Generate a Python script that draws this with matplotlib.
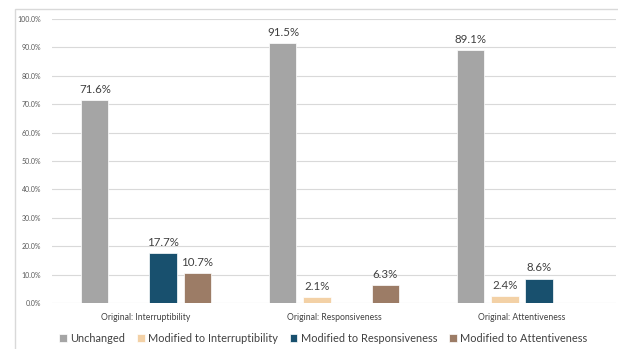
import numpy as np
import matplotlib.pyplot as plt
from matplotlib.patches import Rectangle

plt.rcParams['font.family'] = ['Lato', 'DejaVu Sans']

groups = ['Original: Interruptibility', 'Original: Responsiveness', 'Original: Attentiveness']
series = ['Unchanged', 'Modified to Interruptibility', 'Modified to Responsiveness', 'Modified to Attentiveness']
unchanged = [71.6, 91.5, 89.1]
to_interrupt = [0.0, 2.1, 2.4]
to_respons = [17.7, 0.0, 8.6]
to_attent = [10.7, 6.3, 0.0]
colors = ['#A5A5A5', '#F3D1A6', '#18506E', '#9C7C66']

values = [unchanged, to_interrupt, to_respons, to_attent]

fig = plt.figure(figsize=(6.18, 3.49), dpi=100)
# light frame around the whole chart
fig.patches.append(Rectangle((15 / 618, -0.01), 1.0, 1 - 9 / 349 + 0.01,
                             transform=fig.transFigure, fill=False,
                             edgecolor='#D9D9D9', linewidth=1.0))

ax = fig.add_axes([52 / 618, 1 - 303 / 349, 564 / 618, 284 / 349])

x = np.arange(len(groups))
width = 0.144
pitch = 0.181
for i, (name, vals, c) in enumerate(zip(series, values, colors)):
    pos = x + (i - 1.5) * pitch
    bars = ax.bar(pos, vals, width, color=c, edgecolor='white', linewidth=0.5, label=name, zorder=3)
    for b, v in zip(bars, vals):
        if v > 0:
            ax.text(b.get_x() + b.get_width() / 2, v + 1.8, f'{v:.1f}%',
                    ha='center', va='bottom', fontsize=8.3, color='#404040')

ax.set_xlim(-0.5, 2.5)
ax.set_ylim(0, 100)
ax.set_yticks(np.arange(0, 101, 10))
ax.set_yticklabels([f'{t:.1f}%' for t in np.arange(0, 101, 10)], fontsize=5, color='#595959')
ax.set_xticks(x)
ax.set_xticklabels(groups, fontsize=6.2, color='#404040')
ax.tick_params(axis='both', length=0)
ax.tick_params(axis='y', pad=8)
ax.tick_params(axis='x', pad=7)
ax.grid(axis='y', color='#D9D9D9', linewidth=0.8, zorder=0)
for s in ax.spines.values():
    s.set_visible(False)

fig.legend(loc='center', bbox_to_anchor=(0.523, 1 - 338 / 349), ncol=4, frameon=False,
           fontsize=7.9, handlelength=0.7, handleheight=0.7, handletextpad=0.3,
           columnspacing=1.1, labelcolor='#404040')

fig.savefig('out.png', dpi=100)
